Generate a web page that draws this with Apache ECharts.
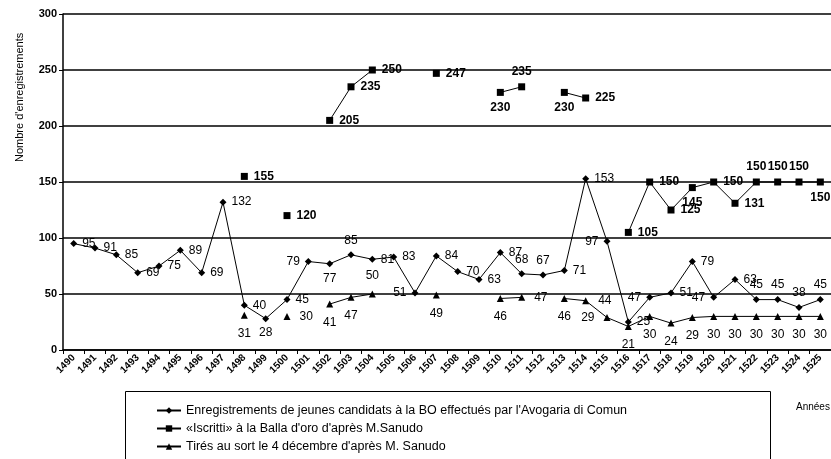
<!DOCTYPE html>
<html>
<head>
<meta charset="utf-8">
<script src="https://cdn.jsdelivr.net/npm/echarts@6/dist/echarts.min.js"></script>
<style>
html,body{margin:0;padding:0;background:#fff;}
#chart{width:831px;height:459px;}
</style>
</head>
<body>
<div id="chart"></div>
<script>
// années 1490 - 1525
var annees = ['1490','1491','1492','1493','1494','1495','1496','1497','1498','1499',
	'1500','1501','1502','1503','1504','1505','1506','1507','1508','1509',
	'1510','1511','1512','1513','1514','1515','1516','1517','1518','1519',
	'1520','1521','1522','1523','1524','1525'];

// Avogaria di Comun
var avogaria = [95,91,85,69,75,89,69,132,40,28,
	45,79,77,85,81,83,51,84,70,63,
	87,68,67,71,153,97,25,47,51,79,
	47,63,45,45,38,45];

// Iscritti (Sanudo)
var iscritti = [null,null,null,null,null,null,null,null,155,null,
	120,null,205,235,250,null,null,247,null,null,
	230,235,null,230,225,null,105,150,125,145,
	150,131,150,150,150,150];

// tirés au sort (Sanudo)
var tires = [null,null,null,null,null,null,null,null,31,null,
	30,null,41,47,50,null,null,49,null,null,
	46,47,null,46,44,29,21,30,24,29,
	30,30,30,30,30,30];

var yTicks = [0,50,100,150,200,250,300];

var nomsSeries = [
	'Enregistrements de jeunes candidats à la BO effectués par l\'Avogaria di Comun',
	'«Iscritti» à la Balla d\'oro d\'après M.Sanudo',
	'Tirés au sort le 4 décembre d\'après M. Sanudo'
];

// position des étiquettes (par année)
var posAvogaria = {'1499':'bottom','1501':'left','1502':'bottom','1503':'top','1506':'left',
	'1511':'top','1512':'top','1515':'left','1517':'left','1520':'left',
	'1522':'top','1523':'top','1524':'top','1525':'top'};
var posIscritti = {'1510':'bottom','1511':'top','1513':'bottom','1519':'bottom',
	'1522':'top','1523':'top','1524':'top','1525':'bottom'};
var posTires = {'1500':'right','1504':'top','1511':'right','1514':'right','1515':'left'};

function build(vals, pos, def) {
	var out = [];
	for (var i = 0; i < vals.length; i++) {
		if (vals[i] == null) { out.push(null); continue; }
		out.push({value: vals[i], label: {position: pos[annees[i]] || def}});
	}
	return out;
}

var police = 'Liberation Sans, Arial, sans-serif';
var myChart = echarts.init(document.getElementById('chart'));
var option = {
	backgroundColor: '#fff',
	animation: false,
	textStyle: {fontFamily: police, color: '#000'},
	grid: {left: 63, top: 14, width: 772, height: 336},
	xAxis: {
		type: 'category',
		data: annees,
		boundaryGap: true,
		axisLine: {lineStyle: {color: '#000', width: 1.5}},
		axisTick: {show: true, length: 4, lineStyle: {color: '#000'}},
		axisLabel: {rotate: 45, interval: 0, fontSize: 10, fontWeight: 'bold', color: '#000', margin: 6}
	},
	yAxis: {
		type: 'value',
		min: yTicks[0],
		max: yTicks[yTicks.length - 1],
		interval: 50,
		axisLine: {show: true, lineStyle: {color: '#000', width: 1.5}},
		axisTick: {show: true, length: 4, lineStyle: {color: '#000'}},
		axisLabel: {fontSize: 11, fontWeight: 'bold', color: '#000', margin: 6},
		splitLine: {lineStyle: {color: '#000', width: 1.5}}
	},
	legend: {
		orient: 'vertical',
		left: 156,
		top: 404,
		padding: 0,
		height: 80,
		itemGap: 5,
		itemWidth: 24,
		itemHeight: 8,
		textStyle: {fontSize: 12.5, color: '#000', fontFamily: police},
		data: nomsSeries
	},
	graphic: [
		{type: 'rect', shape: {x: 125.5, y: 391.5, width: 645, height: 80},
			style: {fill: 'none', stroke: '#000', lineWidth: 1}, z: 0},
		{type: 'text', x: 14, y: 162, rotation: Math.PI / 2,
			style: {text: 'Nombre d\'enregistrements', fontSize: 11, fontFamily: police, fill: '#000'}},
		{type: 'text', x: 796, y: 402,
			style: {text: 'Années', fontSize: 10, fontFamily: police, fill: '#000'}}
	],
	series: [
		{
			name: nomsSeries[0],
			type: 'line',
			data: build(avogaria, posAvogaria, 'right'),
			symbol: 'diamond',
			symbolSize: 7,
			connectNulls: false,
			itemStyle: {color: '#000'},
			lineStyle: {color: '#000', width: 1},
			label: {show: true, fontSize: 12, color: '#000', distance: 5}
		},
		{
			name: nomsSeries[1],
			type: 'line',
			data: build(iscritti, posIscritti, 'right'),
			symbol: 'rect',
			symbolSize: 7,
			connectNulls: false,
			itemStyle: {color: '#000'},
			lineStyle: {color: '#000', width: 1},
			label: {show: true, fontSize: 12, fontWeight: 'bold', color: '#000', distance: 6}
		},
		{
			name: nomsSeries[2],
			type: 'line',
			data: build(tires, posTires, 'bottom'),
			symbol: 'triangle',
			symbolSize: 7,
			connectNulls: false,
			itemStyle: {color: '#000'},
			lineStyle: {color: '#000', width: 1},
			label: {show: true, fontSize: 12, color: '#000', distance: 9}
		}
	]
};
myChart.setOption(option);
</script>
</body>
</html>
